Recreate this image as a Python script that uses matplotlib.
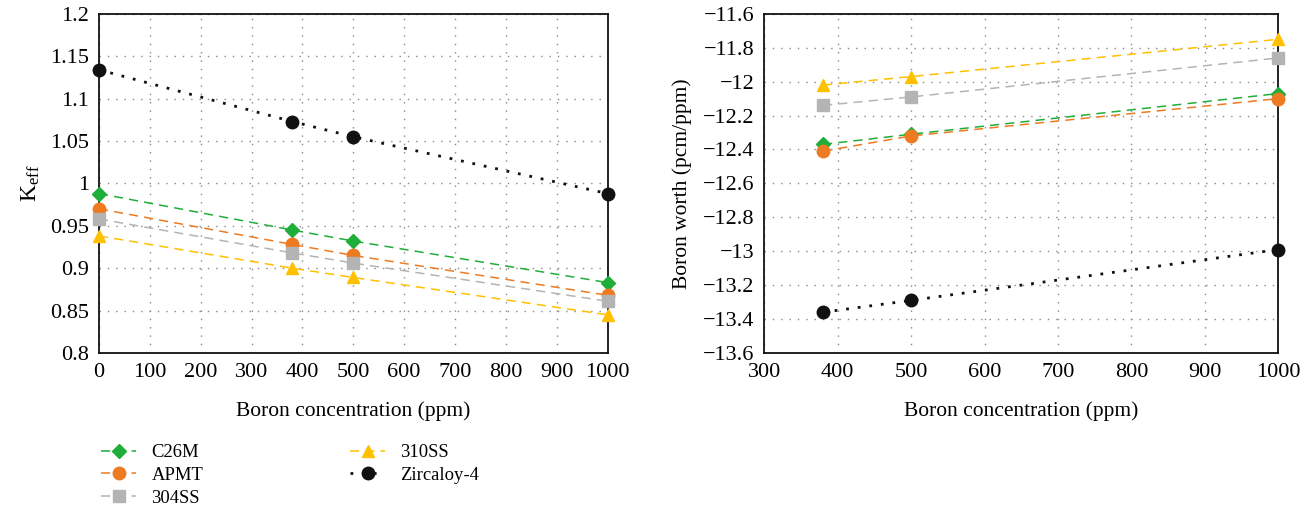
import matplotlib
matplotlib.use("Agg")
import matplotlib.pyplot as plt

plt.rcParams['font.family'] = ['Liberation Serif', 'DejaVu Serif']
plt.rcParams['mathtext.fontset'] = 'custom'
plt.rcParams['mathtext.rm'] = 'Liberation Serif'
plt.rcParams['mathtext.it'] = 'Liberation Serif:italic'

# boron concentration (ppm)
boron_keff = [0, 380, 500, 1000]
boron_worth = [380, 500, 1000]

# k-eff per cladding material
keff_c26m = [0.988, 0.945, 0.932, 0.883]
keff_apmt = [0.970, 0.928, 0.915, 0.868]
keff_304ss = [0.958, 0.918, 0.906, 0.861]
keff_310ss = [0.938, 0.900, 0.889, 0.845]
keff_zirc = [1.134, 1.073, 1.055, 0.988]

# boron worth (pcm/ppm)
worth_c26m = [-12.37, -12.31, -12.07]
worth_apmt = [-12.41, -12.32, -12.10]
worth_304ss = [-12.14, -12.09, -11.86]
worth_310ss = [-12.02, -11.97, -11.75]
worth_zirc = [-13.36, -13.29, -12.99]

names = ["C26M", "APMT", "304SS", "310SS", "Zircaloy-4"]
colors = ["#1fae3a", "#ee7b22", "#b4b4b4", "#ffc000", "#111111"]
markers = ["D", "o", "s", "^", "o"]
msizes = [7, 9, 8.5, 9, 9]

dash = (0, (6, 4))
dot = (0, (1, 3.2))

fig = plt.figure(figsize=(13.11, 5.13), dpi=100)
ax1 = fig.add_axes([0.0755, 0.312, 0.388, 0.661])
ax2 = fig.add_axes([0.583, 0.312, 0.392, 0.661])

keff_all = [keff_c26m, keff_apmt, keff_304ss, keff_310ss, keff_zirc]
worth_all = [worth_c26m, worth_apmt, worth_304ss, worth_310ss, worth_zirc]

lines = []
for i in range(5):
    ls = dot if i == 4 else dash
    lw = 2.0 if i == 4 else 1.1
    l, = ax1.plot(boron_keff, keff_all[i], linestyle=ls, lw=lw, color=colors[i],
                  marker=markers[i], ms=msizes[i], label=names[i], clip_on=False, zorder=3)
    lines.append(l)
    ax2.plot(boron_worth, worth_all[i], linestyle=ls, lw=lw, color=colors[i],
             marker=markers[i], ms=msizes[i], clip_on=False, zorder=3)

ax1.set_xlim(0, 1000)
ax1.set_ylim(0.8, 1.2)
ax1.set_xticks(range(0, 1001, 100))
ax1.set_yticks([0.8, 0.85, 0.9, 0.95, 1.0, 1.05, 1.1, 1.15, 1.2])
ax1.set_yticklabels(["0.8", "0.85", "0.9", "0.95", "1", "1.05", "1.1", "1.15", "1.2"])
ax1.set_xlabel("Boron concentration (ppm)", fontsize=15.5, labelpad=14)
ax1.set_ylabel(r"K$_{\mathrm{eff}}$", fontsize=17, labelpad=6)

ax2.set_xlim(300, 1000)
ax2.set_ylim(-13.6, -11.6)
ax2.set_xticks(range(300, 1001, 100))
yt = [-13.6, -13.4, -13.2, -13.0, -12.8, -12.6, -12.4, -12.2, -12.0, -11.8, -11.6]
ax2.set_yticks(yt)
ax2.set_yticklabels(["\u2212" + ("%g" % abs(v)) for v in yt])
ax2.set_xlabel("Boron concentration (ppm)", fontsize=15.5, labelpad=14)
ax2.set_ylabel("Boron worth (pcm/ppm)", fontsize=15.5, labelpad=8)

for ax in (ax1, ax2):
    ax.grid(True, color="#888888", linestyle=(0, (1, 5)), lw=1.0)
    ax.tick_params(length=0, labelsize=16, pad=7)
    for s in ax.spines.values():
        s.set_linewidth(1.3)
        s.set_color("#111111")

# legend sits under the left panel
fig.legend(handles=lines, loc="upper left", bbox_to_anchor=(0.070, 0.152),
           ncol=2, frameon=False, fontsize=13.4, handlelength=1.9,
           columnspacing=7.9, labelspacing=0.3, handletextpad=0.8,
           borderpad=0.0)

fig.savefig("out.png", dpi=100)
